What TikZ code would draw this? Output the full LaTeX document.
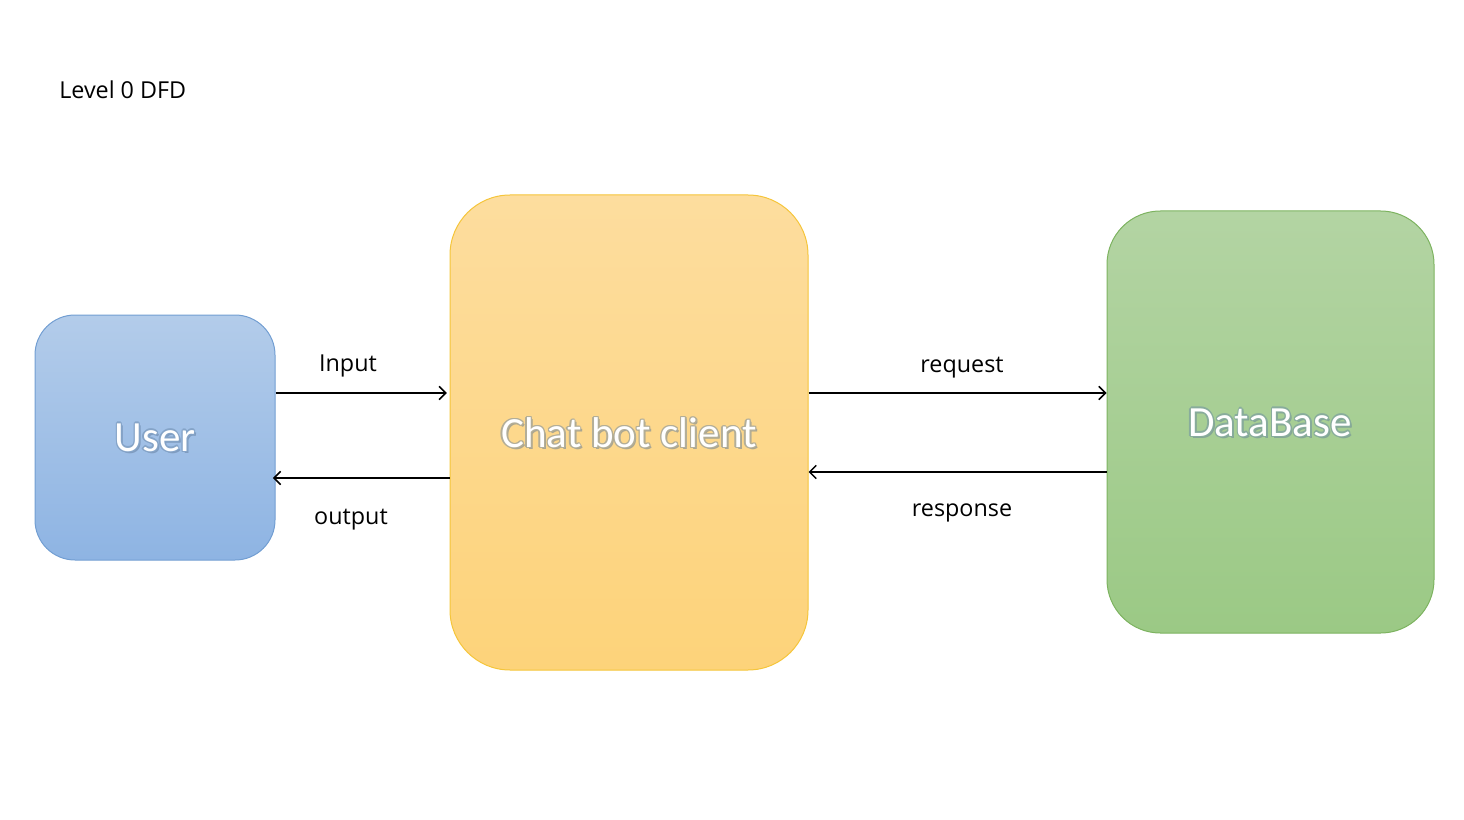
\documentclass[tikz,border=0pt]{standalone}
\usepackage{fontspec}
\setmainfont{Open Sans}
\newfontfamily\boxfont{Carlito}
\usetikzlibrary{arrows.meta,calc}
\definecolor{usertop}{HTML}{B3CCEA}
\definecolor{userbot}{HTML}{8EB4E3}
\definecolor{userline}{HTML}{729ED2}
\definecolor{chattop}{HTML}{FDDD9E}
\definecolor{chatbot}{HTML}{FDD37A}
\definecolor{chatline}{HTML}{F5C53A}
\definecolor{dbtop}{HTML}{B3D4A3}
\definecolor{dbbot}{HTML}{9BC985}
\definecolor{dbline}{HTML}{7DB360}
\definecolor{userglow}{HTML}{85A4C8}
\definecolor{chatglow}{HTML}{B3AE98}
\definecolor{dbglow}{HTML}{88AC9C}
\definecolor{usershadow}{HTML}{7F9CC0}
\definecolor{chatshadow}{HTML}{ABA690}
\definecolor{dbshadow}{HTML}{84A696}
\tikzset{
  entity/.style={rectangle, inner sep=0pt, line width=0.75pt},
  boxtext/.style={inner sep=0pt, font=\boxfont\fontsize{32.3pt}{38pt}\selectfont},
  flowlabel/.style={inner sep=0pt, font=\fontsize{17.5pt}{21pt}\selectfont},
  flow/.style={line width=1.15pt, -{Straight Barb[length=5pt,width=10pt,line width=1.15pt]}},
}
% text moved by half of #1 sideways and #2 up, in colour #3
\newcommand\offtxt[4]{\makebox[0pt]{\raisebox{#2}{\hspace*{#1}\textcolor{#3}{#4}}}}
\newcommand\glowtxt[3]{%
  \offtxt{3pt}{-1.6pt}{#2}{#3}%
  \offtxt{2pt}{0pt}{#1}{#3}\offtxt{-2pt}{0pt}{#1}{#3}%
  \offtxt{0pt}{1pt}{#1}{#3}\offtxt{0pt}{-1pt}{#1}{#3}%
  \offtxt{1.4pt}{0.7pt}{#1}{#3}\offtxt{-1.4pt}{0.7pt}{#1}{#3}%
  \offtxt{1.4pt}{-0.7pt}{#1}{#3}\offtxt{-1.4pt}{-0.7pt}{#1}{#3}%
  \makebox[0pt]{\textcolor{white}{#3}}}
\begin{document}
\begin{tikzpicture}[x=0.75pt,y=-0.75pt]
\useasboundingbox (0,0) rectangle (1464,820);
\node[flowlabel, anchor=west] (title) at (59,90) {Level 0 DFD};

\node[entity, minimum width=180pt, minimum height=183.75pt, rounded corners=30pt,
      top color=usertop, bottom color=userbot, draw=userline] (user) at (155,437.5) {};
\node[entity, minimum width=268.5pt, minimum height=356.25pt, rounded corners=45pt,
      top color=chattop, bottom color=chatbot, draw=chatline] (chat) at (629,432.5) {};
\node[entity, minimum width=245.25pt, minimum height=316.5pt, rounded corners=40pt,
      top color=dbtop, bottom color=dbbot, draw=dbline] (db) at (1270.5,422) {};

\node[boxtext] (usert) at (155,438) {\glowtxt{userglow}{usershadow}{User}};
\node[boxtext] (chatt) at (629,433) {\glowtxt{chatglow}{chatshadow}{Chat bot client}};
\node[boxtext] (dbt) at (1270,423) {\glowtxt{dbglow}{dbshadow}{DataBase}};

\coordinate (yin) at (0,393);
\coordinate (yout) at (0,478);
\coordinate (yreq) at (0,393);
\coordinate (yres) at (0,472);

\draw[flow] (user.east |- yin) -- ([xshift=-2]chat.west |- yin);
\draw[flow] (chat.west |- yout) -- ([xshift=-2]user.east |- yout);
\draw[flow] (chat.east |- yreq) -- (db.west |- yreq);
\draw[flow] (db.west |- yres) -- (chat.east |- yres);

\node[flowlabel] (linput) at (348,366) {Input};
\node[flowlabel] (loutput) at (351,520) {output};
\node[flowlabel] (lreq) at (962,368) {request};
\node[flowlabel] (lres) at (962,513) {response};
\end{tikzpicture}
\end{document}
